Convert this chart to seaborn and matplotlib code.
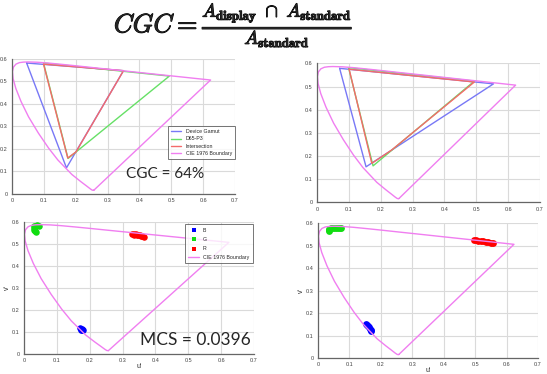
import matplotlib
matplotlib.use("Agg")
import matplotlib.pyplot as plt
import matplotlib.patheffects as pe
from matplotlib.markers import MarkerStyle
import seaborn as sns

# CIE 1976 u'v' spectral locus (380 nm ... 700 nm), closed with the purple line
locus_u = [0.2568, 0.2522, 0.2461, 0.2347, 0.2161, 0.1877, 0.1441, 0.1147, 0.0828,
           0.0521, 0.0282, 0.0119, 0.0035, 0.0014, 0.0046, 0.0123, 0.0231, 0.0360,
           0.0501, 0.0792, 0.1127, 0.1531, 0.2026, 0.2623, 0.3315, 0.4035, 0.5203,
           0.5830, 0.6234, 0.2568]
locus_v = [0.0166, 0.0169, 0.0226, 0.0350, 0.0549, 0.0871, 0.1510, 0.2044, 0.2708,
           0.3427, 0.4117, 0.4698, 0.5131, 0.5432, 0.5638, 0.5770, 0.5837, 0.5861,
           0.5868, 0.5856, 0.5821, 0.5766, 0.5694, 0.5604, 0.5501, 0.5393, 0.5219,
           0.5125, 0.5065, 0.0166]

# D65-P3 reference gamut
p3_u = [0.099, 0.176, 0.494, 0.099]
p3_v = [0.582, 0.158, 0.524, 0.582]

# left display
dev1_u = [0.046, 0.171, 0.350, 0.046]
dev1_v = [0.582, 0.116, 0.548, 0.582]
inter1_u = [0.099, 0.175, 0.201, 0.350, 0.099]
inter1_v = [0.577, 0.160, 0.187, 0.548, 0.577]

# right display
dev2_u = [0.071, 0.154, 0.554, 0.071]
dev2_v = [0.579, 0.154, 0.512, 0.579]
inter2_u = [0.101, 0.172, 0.234, 0.494, 0.101]
inter2_v = [0.575, 0.169, 0.226, 0.520, 0.575]

# measured primaries, left display
b1_u = [0.171, 0.174, 0.177, 0.175, 0.178, 0.173]
b1_v = [0.119, 0.116, 0.113, 0.110, 0.108, 0.112]
g1_u = [0.030, 0.034, 0.040, 0.045, 0.029, 0.030, 0.033, 0.037]
g1_v = [0.580, 0.582, 0.583, 0.582, 0.572, 0.564, 0.557, 0.554]
r1_u = [0.330, 0.336, 0.342, 0.348, 0.354, 0.360, 0.366, 0.335, 0.345, 0.355]
r1_v = [0.546, 0.545, 0.543, 0.541, 0.539, 0.537, 0.533, 0.540, 0.538, 0.535]

# measured primaries, right display
b2_u = [0.152, 0.155, 0.158, 0.161, 0.164, 0.167, 0.170]
b2_v = [0.152, 0.147, 0.142, 0.137, 0.132, 0.127, 0.122]
g2_u = [0.034, 0.036, 0.040, 0.046, 0.052, 0.058, 0.064, 0.070, 0.074, 0.035]
g2_v = [0.566, 0.573, 0.578, 0.580, 0.581, 0.581, 0.581, 0.581, 0.581, 0.570]
r2_u = [0.495, 0.502, 0.510, 0.518, 0.526, 0.534, 0.542, 0.550, 0.558]
r2_v = [0.526, 0.525, 0.523, 0.522, 0.520, 0.518, 0.516, 0.514, 0.512]

ticks_u = [0, 0.1, 0.2, 0.3, 0.4, 0.5, 0.6, 0.7]
ticks_v = [0, 0.1, 0.2, 0.3, 0.4, 0.5, 0.6]

sns.set_style("white")
plt.rcParams["font.family"] = ["Liberation Sans", "DejaVu Sans"]
plt.rcParams["mathtext.fontset"] = "cm"

C_DEV = "#7878f6"
C_P3 = "#66e066"
C_INT = "#f46a6a"
C_LOC = "#f07ef0"

fig = plt.figure(figsize=(5.47, 3.74), dpi=100)


def style_axes(ax, labels=False):
    ax.set_xlim(0, 0.7)
    ax.set_ylim(0, 0.6)
    ax.set_xticks(ticks_u)
    ax.set_yticks(ticks_v)
    ax.set_xticklabels(["0" if t == 0 else f"{t:g}" for t in ticks_u])
    ax.set_yticklabels(["0" if t == 0 else f"{t:g}" for t in ticks_v])
    ax.tick_params(labelsize=4, length=2, width=0.6, pad=1, colors="#444444")
    ax.grid(True, color="#dadada", lw=0.8)
    ax.set_axisbelow(True)
    for s in ["top", "right"]:
        ax.spines[s].set_visible(False)
    for s in ["left", "bottom"]:
        ax.spines[s].set_color("#666666")
        ax.spines[s].set_linewidth(0.9)
    if labels:
        ax.set_xlabel("u'", fontsize=5, labelpad=0)
        ax.set_ylabel("v'", fontsize=5, labelpad=1)
    else:
        ax.set_xlabel("")
        ax.set_ylabel("")


def gamut_panel(ax, dev_u, dev_v, int_u, int_v, legend):
    kw = dict(sort=False, estimator=None, ax=ax, lw=1.0)
    sns.lineplot(x=dev_u, y=dev_v, color=C_DEV, label="Device Gamut", **kw)
    sns.lineplot(x=p3_u, y=p3_v, color=C_P3, label="D65-P3", **kw)
    sns.lineplot(x=int_u, y=int_v, color=C_INT, label="Intersection", **kw)
    sns.lineplot(x=locus_u, y=locus_v, color=C_LOC, label="CIE 1976 Boundary", **kw)
    if legend:
        leg = ax.legend(loc="upper right", bbox_to_anchor=(1.01, 0.52), fontsize=3.8,
                        fancybox=False, edgecolor="#555555", handlelength=2.0,
                        borderpad=0.5, labelspacing=0.45)
        leg.get_frame().set_linewidth(0.7)
    else:
        ax.get_legend().remove()
    style_axes(ax)


def primaries_panel(ax, bu, bv, gu, gv, ru, rv, size, legend):
    kw = dict(ax=ax, marker="o", linewidth=0, s=size)
    sns.scatterplot(x=bu, y=bv, color="#0000ff", label="B", **kw)
    sns.scatterplot(x=gu, y=gv, color="#11dd11", label="G", **kw)
    sns.scatterplot(x=ru, y=rv, color="#ff0000", label="R", **kw)
    sns.lineplot(x=locus_u, y=locus_v, sort=False, estimator=None, ax=ax,
                 color=C_LOC, lw=1.0, label="CIE 1976 Boundary")
    if legend:
        leg = ax.legend(loc="upper right", bbox_to_anchor=(1.005, 1.0), fontsize=3.8,
                        fancybox=False, edgecolor="#555555", handlelength=2.0,
                        borderpad=0.6, labelspacing=0.8, markerscale=0.5)
        leg.get_frame().set_linewidth(0.7)
        sq = MarkerStyle("s")
        sq_path = sq.get_path().transformed(sq.get_transform())
        for h in leg.legend_handles[:3]:
            h.set_paths([sq_path])
    else:
        ax.get_legend().remove()
    style_axes(ax, labels=True)


ax1 = fig.add_axes([0.0219, 0.4813, 0.4077, 0.361])
gamut_panel(ax1, dev1_u, dev1_v, inter1_u, inter1_v, legend=True)

ax2 = fig.add_axes([0.5795, 0.4586, 0.4077, 0.3717])
gamut_panel(ax2, dev2_u, dev2_v, inter2_u, inter2_v, legend=False)

ax3 = fig.add_axes([0.0439, 0.0527, 0.4205, 0.3545])
primaries_panel(ax3, b1_u, b1_v, g1_u, g1_v, r1_u, r1_v, 22, legend=True)

ax4 = fig.add_axes([0.5814, 0.042, 0.4022, 0.361])
primaries_panel(ax4, b2_u, b2_v, g2_u, g2_v, r2_u, r2_v, 24, legend=False)

fig.text(0.427, 0.933,
         r"$CGC = \frac{A_{\mathbf{display}}\ \cap\ A_{\mathbf{standard}}}{A_{\mathbf{standard}}}$",
         ha="center", va="center", fontsize=19,
         path_effects=[pe.withStroke(linewidth=0.7, foreground="black")])
fig.text(0.3016, 0.536, "CGC = 64%", ha="center", va="center", fontsize=11,
         family=["Lato", "DejaVu Sans"])
fig.text(0.3565, 0.0922, "MCS = 0.0396", ha="center", va="center", fontsize=12.5,
         family=["Lato", "DejaVu Sans"])

fig.savefig("out.png", dpi=100)
